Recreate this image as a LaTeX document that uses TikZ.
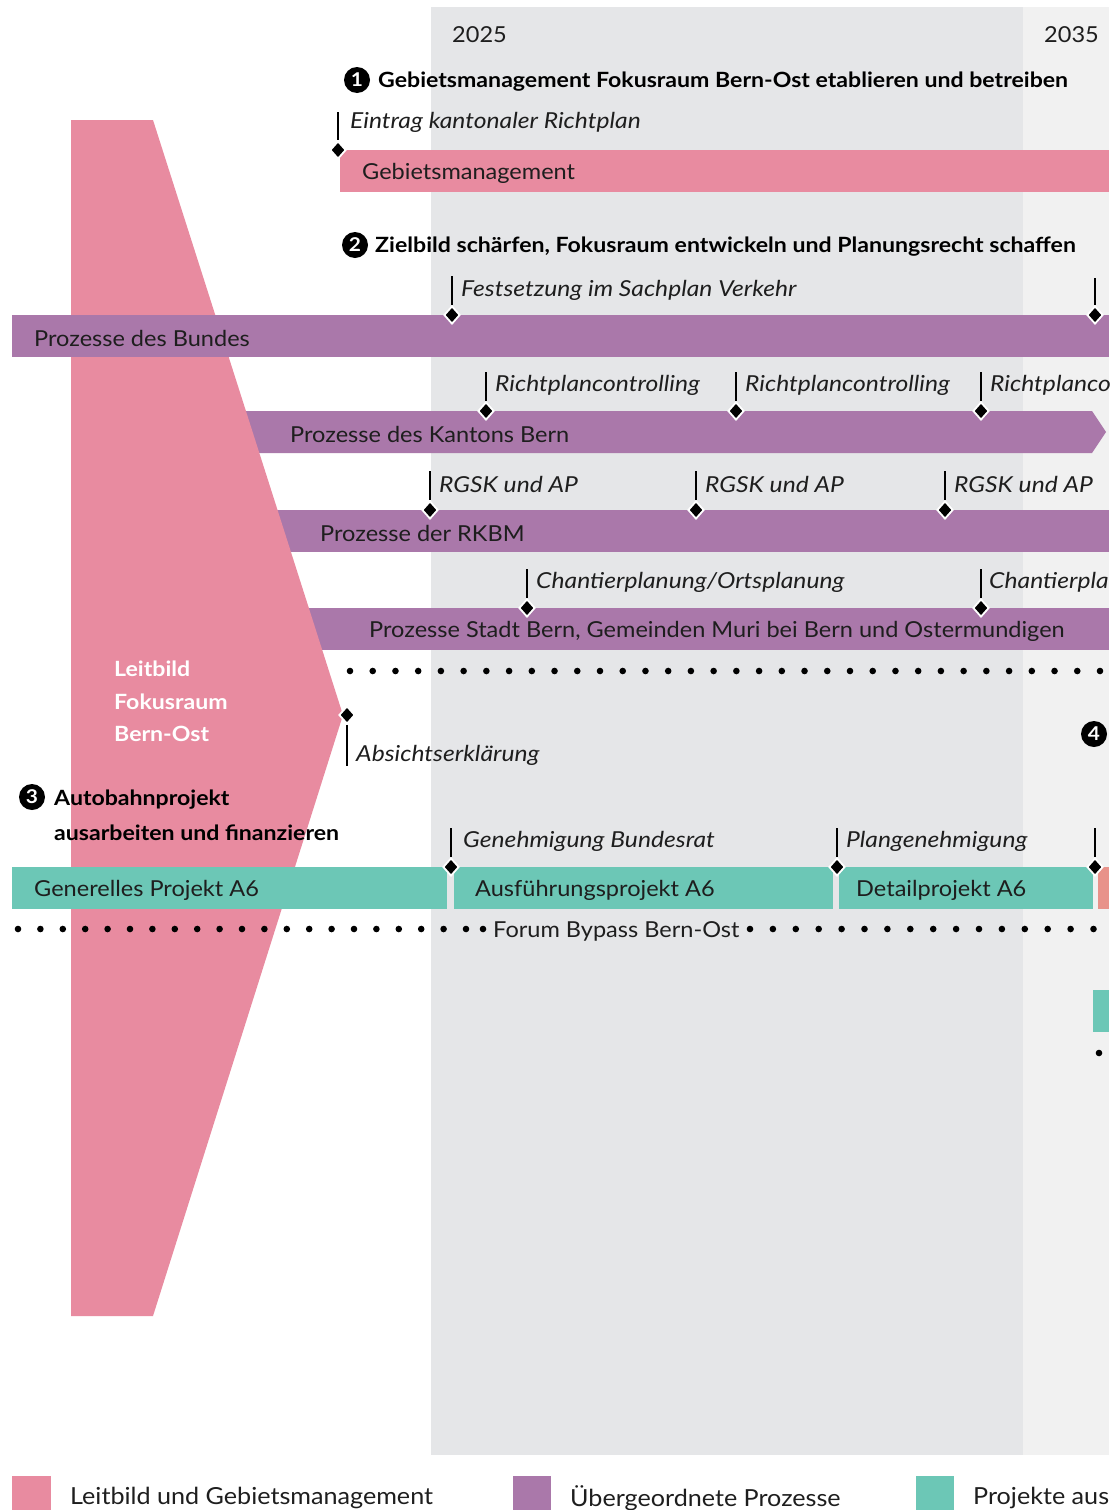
\documentclass[tikz,border=0pt]{standalone}
\usepackage{fontspec}
\setmainfont{Lato}[FakeStretch=1.07]
\newfontfamily\itfam{Lato}[FakeStretch=1.12]
\newfontfamily\bffam{Lato}[FakeStretch=1.10]
\usetikzlibrary{shapes.geometric}
\definecolor{pinkc}{HTML}{E88BA0}
\definecolor{purp}{HTML}{AA78AA}
\definecolor{tealc}{HTML}{6CC7B6}
\definecolor{bandg}{HTML}{E5E6E8}
\definecolor{lightg}{HTML}{F1F1F1}
\definecolor{salm}{HTML}{E8928A}
\definecolor{txt}{HTML}{1E1E1E}
\begin{document}
\begin{tikzpicture}[x=1pt,y=-1pt,
  lbl/.style={anchor=west,inner sep=0,yshift=-2,text=txt,font=\fontsize{22}{26}\selectfont},
  leg/.style={anchor=west,inner sep=0,yshift=-2,text=txt,font=\fontsize{23.5}{26}\selectfont},
  ilbl/.style={anchor=west,inner sep=0,yshift=-2,text=txt,font=\fontsize{22}{26}\itfam\itshape},
  head/.style={anchor=west,inner sep=0,yshift=-2,text=black,font=\fontsize{21}{24}\bffam\bfseries},
  wlbl/.style={anchor=west,inner sep=0,yshift=-2,text=white,font=\fontsize{21}{24}\bffam\bfseries},
  num/.style={circle,fill=black,text=white,inner sep=0,minimum size=26,font=\fontsize{19}{19}\bffam\bfseries},
  dia/.style={diamond,fill=black,draw=white,line width=1.8,inner sep=0,minimum width=16,minimum height=18},
  stem/.style={line width=1.4,black},
  dotc/.style={fill=black}
]
\useasboundingbox (0,0) rectangle (1109,1510);
% background bands
\fill[bandg] (431,7) rectangle (1023,1455);
\fill[lightg] (1023,7) rectangle (1109,1455);
\node[lbl] (y2025) at (452,33) {2025};
\node[lbl] (y2035) at (1044,33) {2035};

% bars behind the pink shape
\fill[purp] (200,411) -- (1092,411) -- (1106,432) -- (1092,453) -- (200,453) -- cycle;
\fill[purp] (200,510) rectangle (1109,552);
\fill[purp] (250,608) rectangle (1109,650);

% pink Leitbild shape
\fill[pinkc] (71,120) -- (153,120) -- (343,715) -- (153,1316) -- (71,1316) -- cycle;

% bars in front
\fill[pinkc] (340,150) rectangle (1109,192);
\fill[purp] (12,315) rectangle (1109,357);
\fill[tealc] (12,867) rectangle (447,909);
\fill[tealc] (454,867) rectangle (833,909);
\fill[tealc] (839,867) rectangle (1093,909);
\fill[salm] (1098,867) rectangle (1109,909);
\fill[tealc] (1093,990) rectangle (1109,1032);

% headings
\node[num] (n1) at (357,80) {1};
\node[head] (h1) at (378,80) {Gebietsmanagement Fokusraum Bern-Ost etablieren und betreiben};
\node[num] (n2) at (355,245) {2};
\node[head] (h2) at (375,245) {Zielbild schärfen, Fokusraum entwickeln und Planungsrecht schaffen};
\node[num] (n3) at (32,797) {3};
\node[head] (h3a) at (54,798) {Autobahnprojekt};
\node[head] (h3b) at (54,831) {ausarbeiten und finanzieren};
\node[num] (n4) at (1094,734) {4};

% Leitbild text
\node[wlbl] (lb1) at (114,667) {Leitbild};
\node[wlbl] (lb2) at (114,700) {Fokusraum};
\node[wlbl] (lb3) at (114,732) {Bern-Ost};

% bar labels
\node[lbl] (gm) at (362,171) {Gebietsmanagement};
\node[lbl] (pb) at (34,336) {Prozesse des Bundes};
\node[lbl] (pk) at (290,432) {Prozesse des Kantons Bern};
\node[lbl] (pr) at (320,531) {Prozesse der RKBM};
\node[lbl] (ps) at (369,629) {Prozesse Stadt Bern, Gemeinden Muri bei Bern und Ostermundigen};
\node[lbl] (ga) at (34,888) {Generelles Projekt A6};
\node[lbl] (aa) at (475,888) {Ausführungsprojekt A6};
\node[lbl] (da) at (856,888) {Detailprojekt A6};

% milestones
\foreach \nm/\x/\yt/\yb in {m1/338/112/150, m2/452/276/315, m3/1095/278/315,
   m4/486/372/411, m5/736/372/411, m6/981/372/411,
   m7/430/471/510, m8/696/471/510, m9/945/471/510,
   m10/527/569/608, m11/981/569/608,
   m12/451/828/867, m13/837/828/867, m14/1095/828/867}{
  \coordinate (\nm t) at (\x,\yt);
  \node[dia] (\nm d) at (\x,\yb) {};
  \draw[stem] (\nm t) -- (\nm d.north);
}
\node[dia] (abd) at (347,715) {};
\coordinate (abt) at (347,766);
\draw[stem] (abd.south) -- (abt);

% milestone labels
\node[ilbl] (l1) at (350,120) {Eintrag kantonaler Richtplan};
\node[ilbl] (l2) at (461,288) {Festsetzung im Sachplan Verkehr};
\node[ilbl] (l4) at (495,383) {Richtplancontrolling};
\node[ilbl] (l5) at (745,383) {Richtplancontrolling};
\node[ilbl] (l6) at (990,383) {Richtplanco};
\node[ilbl] (l7) at (439,482) {RGSK und AP};
\node[ilbl] (l8) at (705,482) {RGSK und AP};
\node[ilbl] (l9) at (954,482) {RGSK und AP};
\node[ilbl] (l10) at (536,580) {Chantierplanung/Ortsplanung};
\node[ilbl] (l11) at (989,580) {Chantierpla};
\node[ilbl] (lab) at (356,753) {Absichtserklärung};
\node[ilbl] (l12) at (463,839) {Genehmigung Bundesrat};
\node[ilbl] (l13) at (846,839) {Plangenehmigung};

% dotted lines
\foreach \i in {0,...,33} \fill[dotc] (350+22.727*\i,671) circle (3.3);
\foreach \i in {0,...,20} \fill[dotc] (18+22.4*\i,929) circle (3.3);
\fill[dotc] (483,929) circle (3.3);
\node[lbl] (forum) at (493,929) {Forum Bypass Bern-Ost};
\foreach \i in {0,...,15} \fill[dotc] (750+22.9*\i,929) circle (3.3);
\fill[dotc] (1099,1053) circle (3.3);

% legend
\fill[pinkc] (12,1476) rectangle (51,1510);
\node[leg] (lg1) at (70,1496) {Leitbild und Gebietsmanagement};
\fill[purp] (513,1476) rectangle (551,1510);
\node[leg] (lg2) at (570,1496) {Übergeordnete Prozesse};
\fill[tealc] (916,1476) rectangle (954,1510);
\node[leg] (lg3) at (973,1496) {Projekte aus};
\end{tikzpicture}
\end{document}
